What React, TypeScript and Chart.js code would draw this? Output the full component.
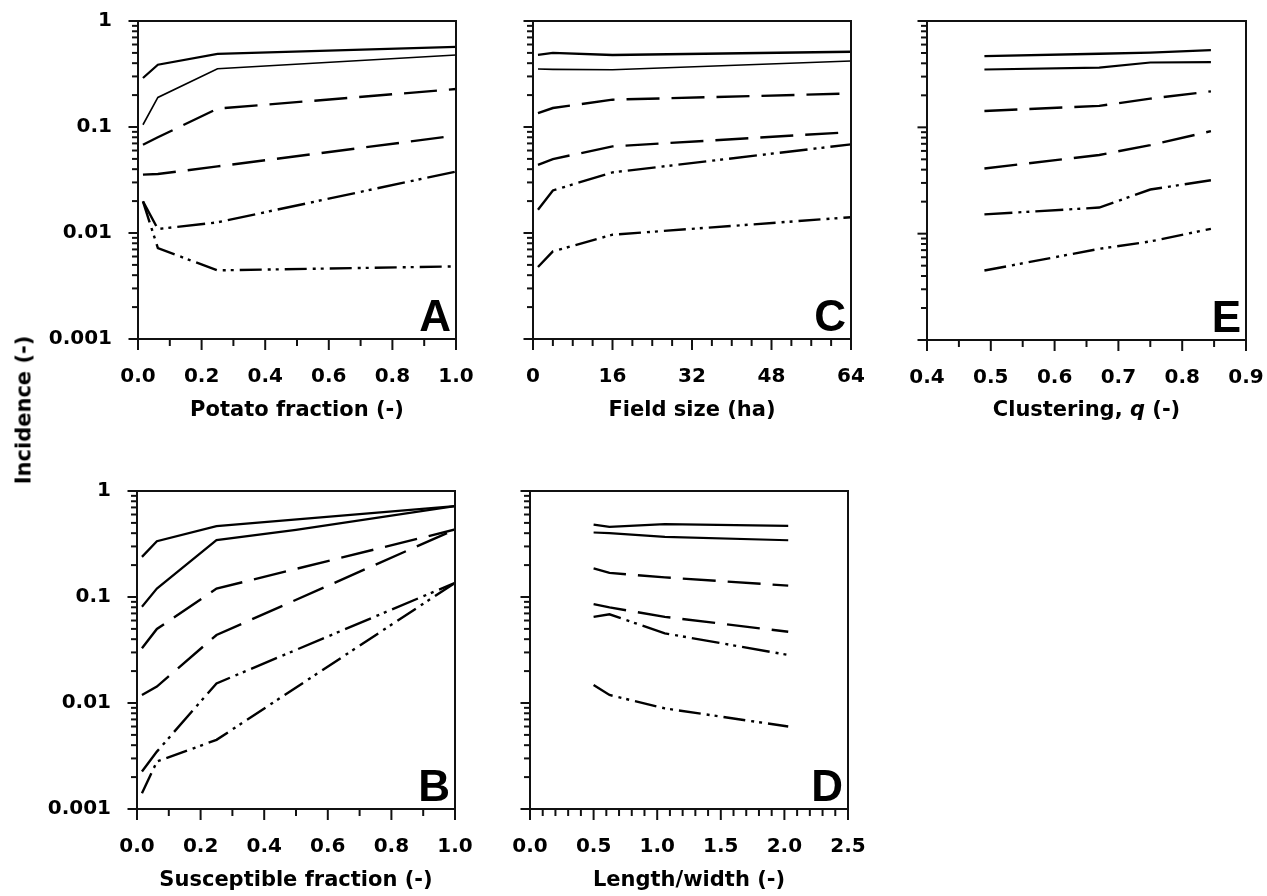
import React, { useEffect, useRef } from "react";
import { Chart, registerables } from "chart.js";

Chart.register(...registerables);

// ---------------- DATA ----------------
// Panel A: potato fraction
const potatoFraction = [0.0156, 0.0625, 0.25, 1.0];
const potatoS1 = [0.29, 0.387, 0.49, 0.57];
const potatoS2 = [0.105, 0.19, 0.355, 0.478];
const potatoS3 = [0.068, 0.08, 0.149, 0.228];
const potatoS4 = [0.0355, 0.036, 0.0425, 0.083];
const potatoS5 = [0.0199, 0.0109, 0.0126, 0.038];
const potatoS6 = [0.0199, 0.0072, 0.00444, 0.00484];

// Panel C: field size (ha)
const fieldSize = [1, 4, 16, 64];
const fieldS1 = [0.478, 0.5, 0.478, 0.513];
const fieldS2 = [0.352, 0.35, 0.347, 0.42];
const fieldS3 = [0.135, 0.151, 0.181, 0.207];
const fieldS4 = [0.044, 0.0498, 0.0656, 0.0896];
const fieldS5 = [0.0166, 0.0252, 0.0373, 0.0686];
const fieldS6 = [0.00478, 0.0067, 0.00964, 0.0141];

// Panel E: clustering q
const clustering = [0.49, 0.67, 0.75, 0.845];
const clusterS1 = [0.467, 0.492, 0.505, 0.532];
const clusterS2 = [0.35, 0.365, 0.407, 0.41];
const clusterS3 = [0.1425, 0.159, 0.186, 0.218];
const clusterS4 = [0.041, 0.055, 0.068, 0.092];
const clusterS5 = [0.0152, 0.0176, 0.026, 0.0318];
const clusterS6 = [0.0045, 0.0072, 0.00845, 0.0111];

// Panel B: susceptible fraction
const suscFraction = [0.0156, 0.0625, 0.25, 1.0];
const suscFraction2 = [0.0156, 0.0625, 0.25, 0.5, 1.0];
const suscS1 = [0.239, 0.336, 0.466, 0.72];
const suscS2 = [0.081, 0.12, 0.344, 0.43, 0.72];
const suscS3 = [0.0328, 0.0499, 0.12, 0.433];
const suscS4 = [0.0119, 0.0143, 0.0438, 0.433];
const suscS5 = [0.00226, 0.00348, 0.0153, 0.136];
const suscS6 = [0.00141, 0.0028, 0.00449, 0.136];

// Panel D: length/width
const lengthWidth = [0.5, 0.625, 1.06, 2.03];
const lwS1 = [0.482, 0.458, 0.486, 0.468];
const lwS2 = [0.406, 0.4, 0.369, 0.343];
const lwS3 = [0.186, 0.169, 0.153, 0.128];
const lwS4 = [0.0857, 0.0798, 0.065, 0.047];
const lwS5 = [0.065, 0.0686, 0.0454, 0.0284];
const lwS6 = [0.0148, 0.0119, 0.0089, 0.006];

// Ticks
const incidenceMajor = [0.001, 0.01, 0.1, 1];
const incidenceLabels = ["0.001", "0.01", "0.1", "1"];
const incidenceMinorFactors = [2, 3, 4, 5, 6, 7, 8, 9];

const fractionMajor = [0, 0.2, 0.4, 0.6, 0.8, 1.0];
const fractionLabels = ["0.0", "0.2", "0.4", "0.6", "0.8", "1.0"];
const fractionMinor = [0.1, 0.3, 0.5, 0.7, 0.9];

const fieldMajor = [0, 16, 32, 48, 64];
const fieldLabels = ["0", "16", "32", "48", "64"];
const fieldMinor = [4, 8, 12, 20, 24, 28, 36, 40, 44, 52, 56, 60];

const clusterMajor = [0.4, 0.5, 0.6, 0.7, 0.8, 0.9];
const clusterLabels = ["0.4", "0.5", "0.6", "0.7", "0.8", "0.9"];
const clusterMinor = [0.45, 0.55, 0.65, 0.75, 0.85];

const lwMajor = [0, 0.5, 1.0, 1.5, 2.0, 2.5];
const lwLabels = ["0.0", "0.5", "1.0", "1.5", "2.0", "2.5"];
const lwMinor = [
  0.1, 0.2, 0.3, 0.4, 0.6, 0.7, 0.8, 0.9, 1.1, 1.2, 1.3, 1.4, 1.6, 1.7, 1.8,
  1.9, 2.1, 2.2, 2.3, 2.4,
];

// ---------------- STYLE ----------------
const FONT = '"DejaVu Sans", "Liberation Sans", sans-serif';
const AXIS_W = 130;
const AXIS_H = 90;
const PAD_TOP = 20;
const PAD_RIGHT = 20;

const dashStyles: number[][] = [
  [],
  [],
  [33, 12],
  [33, 12],
  [28, 6, 3, 5, 3, 6],
  [22, 6, 3, 5, 3, 6],
];

type Series = { x: number[]; y: number[] };
type PanelSpec = {
  letter: string;
  left: number;
  top: number;
  size: number;
  xMin: number;
  xMax: number;
  xMajor: number[];
  xLabels: string[];
  xMinor: number[];
  showY: boolean;
  line2Width: number;
  series: Series[];
};

const near = (a: number, b: number) => Math.abs(a - b) < 1e-9 * Math.max(1, Math.abs(b));

function incidenceMinor(): number[] {
  const out: number[] = [];
  for (let i = 0; i < incidenceMajor.length - 1; i++) {
    for (const f of incidenceMinorFactors) out.push(Number((incidenceMajor[i] * f).toPrecision(3)));
  }
  return out;
}

const framePlugin = {
  id: "frame",
  afterDraw(chart: any, _args: any, opts: any) {
    const { ctx, chartArea } = chart;
    const { left, right, top, bottom } = chartArea;
    const xs = chart.scales.x;
    const ys = chart.scales.y;
    ctx.save();
    ctx.strokeStyle = "#111";
    ctx.lineWidth = 2;
    ctx.lineCap = "butt";
    ctx.strokeRect(left, top, right - left, bottom - top);
    for (const t of xs.ticks) {
      const px = xs.getPixelForValue(t.value);
      const major = opts.xMajor.some((m: number) => near(m, t.value));
      ctx.beginPath();
      ctx.moveTo(px, bottom);
      ctx.lineTo(px, bottom + (major ? 11 : 7));
      ctx.stroke();
    }
    for (const t of ys.ticks) {
      const py = ys.getPixelForValue(t.value);
      const major = incidenceMajor.some((m) => near(m, t.value));
      ctx.beginPath();
      ctx.moveTo(left, py);
      ctx.lineTo(left - (major ? 9.5 : 6), py);
      ctx.stroke();
    }
    ctx.fillStyle = "#000";
    ctx.font = 'bold 44px "Liberation Sans", Arial, sans-serif';
    ctx.textAlign = "right";
    ctx.textBaseline = "alphabetic";
    ctx.fillText(opts.letter, right - 5, bottom - 8);
    ctx.restore();
  },
};

function Panel({ spec }: { spec: PanelSpec }) {
  const ref = useRef<HTMLCanvasElement>(null);
  const width = AXIS_W + spec.size + PAD_RIGHT;
  const height = PAD_TOP + spec.size + AXIS_H;

  useEffect(() => {
    if (!ref.current) return;
    const datasets = spec.series.map((s, i) => ({
      data: s.x.map((x, j) => ({ x, y: s.y[j] })),
      borderColor: "#000",
      borderWidth: i === 0 ? 2.3 : i === 1 ? spec.line2Width : 2.4,
      borderDash: dashStyles[i],
      borderCapStyle: "butt" as const,
      pointRadius: 0,
      tension: 0,
      fill: false,
    }));
    const chart = new Chart(ref.current, {
      type: "line",
      data: { datasets },
      options: {
        responsive: false,
        animation: false,
        events: [],
        layout: { padding: { left: 0, top: PAD_TOP, right: PAD_RIGHT, bottom: 0 } },
        plugins: {
          legend: { display: false },
          tooltip: { enabled: false },
          title: { display: false },
          frame: { letter: spec.letter, xMajor: spec.xMajor },
        } as any,
        scales: {
          x: {
            type: "linear",
            position: "bottom",
            min: spec.xMin,
            max: spec.xMax,
            afterBuildTicks: (scale: any) => {
              scale.ticks = [...spec.xMajor, ...spec.xMinor]
                .sort((a, b) => a - b)
                .map((v) => ({ value: v }));
            },
            afterFit: (scale: any) => {
              scale.height = AXIS_H;
            },
            grid: { display: false, drawTicks: true, tickLength: 26 },
            border: { display: false },
            ticks: {
              autoSkip: false,
              maxRotation: 0,
              minRotation: 0,
              padding: 0,
              color: "#000",
              font: { family: FONT, size: 20, weight: "bold" },
              callback: (value: any) => {
                const i = spec.xMajor.findIndex((m) => near(m, Number(value)));
                return i >= 0 ? spec.xLabels[i] : "";
              },
            },
          },
          y: {
            type: "logarithmic",
            position: "left",
            min: 0.001,
            max: 1,
            afterBuildTicks: (scale: any) => {
              scale.ticks = [...incidenceMajor, ...incidenceMinor()]
                .sort((a, b) => a - b)
                .map((v) => ({ value: v }));
            },
            afterFit: (scale: any) => {
              scale.width = AXIS_W;
            },
            grid: { display: false, drawTicks: true, tickLength: 26 },
            border: { display: false },
            ticks: {
              display: spec.showY,
              autoSkip: false,
              padding: 0,
              color: "#000",
              font: { family: FONT, size: 20, weight: "bold" },
              callback: (value: any) => {
                const i = incidenceMajor.findIndex((m) => near(m, Number(value)));
                return i >= 0 ? incidenceLabels[i] : "";
              },
            },
          },
        },
      } as any,
      plugins: [framePlugin as any],
    });
    return () => chart.destroy();
  }, [spec]);

  return (
    <canvas
      ref={ref}
      width={width}
      height={height}
      style={{
        position: "absolute",
        left: spec.left - AXIS_W,
        top: spec.top - PAD_TOP,
        width,
        height,
      }}
    />
  );
}

const mk = (xs: number[], ys: number[]): Series => ({ x: xs, y: ys });

const panels: PanelSpec[] = [
  {
    letter: "A", left: 138, top: 21, size: 318, xMin: 0, xMax: 1,
    xMajor: fractionMajor, xLabels: fractionLabels, xMinor: fractionMinor, showY: true, line2Width: 1.6,
    series: [
      mk(potatoFraction, potatoS1), mk(potatoFraction, potatoS2), mk(potatoFraction, potatoS3),
      mk(potatoFraction, potatoS4), mk(potatoFraction, potatoS5), mk(potatoFraction, potatoS6),
    ],
  },
  {
    letter: "C", left: 533, top: 21, size: 318, xMin: 0, xMax: 64,
    xMajor: fieldMajor, xLabels: fieldLabels, xMinor: fieldMinor, showY: false, line2Width: 1.6,
    series: [
      mk(fieldSize, fieldS1), mk(fieldSize, fieldS2), mk(fieldSize, fieldS3),
      mk(fieldSize, fieldS4), mk(fieldSize, fieldS5), mk(fieldSize, fieldS6),
    ],
  },
  {
    letter: "E", left: 927, top: 21, size: 319, xMin: 0.4, xMax: 0.9,
    xMajor: clusterMajor, xLabels: clusterLabels, xMinor: clusterMinor, showY: false, line2Width: 2.2,
    series: [
      mk(clustering, clusterS1), mk(clustering, clusterS2), mk(clustering, clusterS3),
      mk(clustering, clusterS4), mk(clustering, clusterS5), mk(clustering, clusterS6),
    ],
  },
  {
    letter: "B", left: 137, top: 491, size: 318, xMin: 0, xMax: 1,
    xMajor: fractionMajor, xLabels: fractionLabels, xMinor: fractionMinor, showY: true, line2Width: 2.2,
    series: [
      mk(suscFraction, suscS1), mk(suscFraction2, suscS2), mk(suscFraction, suscS3),
      mk(suscFraction, suscS4), mk(suscFraction, suscS5), mk(suscFraction, suscS6),
    ],
  },
  {
    letter: "D", left: 530, top: 491, size: 318, xMin: 0, xMax: 2.5,
    xMajor: lwMajor, xLabels: lwLabels, xMinor: lwMinor, showY: false, line2Width: 2.2,
    series: [
      mk(lengthWidth, lwS1), mk(lengthWidth, lwS2), mk(lengthWidth, lwS3),
      mk(lengthWidth, lwS4), mk(lengthWidth, lwS5), mk(lengthWidth, lwS6),
    ],
  },
];

const titleStyle: React.CSSProperties = {
  position: "absolute",
  transform: "translateX(-50%)",
  fontFamily: FONT,
  fontWeight: "bold",
  fontSize: 21,
  lineHeight: "21px",
  whiteSpace: "nowrap",
  color: "#000",
};

export default function App() {
  return (
    <div
      style={{
        position: "absolute",
        left: 0,
        top: 0,
        width: 1267,
        height: 896,
        overflow: "hidden",
        background: "#fff",
      }}
    >
      {panels.map((p) => (
        <Panel key={p.letter} spec={p} />
      ))}
      <div style={{ ...titleStyle, left: 297, top: 399 }}>Potato fraction (-)</div>
      <div style={{ ...titleStyle, left: 692, top: 399 }}>Field size (ha)</div>
      <div style={{ ...titleStyle, left: 1086.5, top: 399 }}>
        Clustering, <i>q</i> (-)
      </div>
      <div style={{ ...titleStyle, left: 296, top: 869 }}>Susceptible fraction (-)</div>
      <div style={{ ...titleStyle, left: 689, top: 869 }}>Length/width (-)</div>
      <div
        style={{
          ...titleStyle,
          left: 24,
          top: 410,
          transform: "translate(-50%, -50%) rotate(-90deg)",
        }}
      >
        Incidence (-)
      </div>
    </div>
  );
}
